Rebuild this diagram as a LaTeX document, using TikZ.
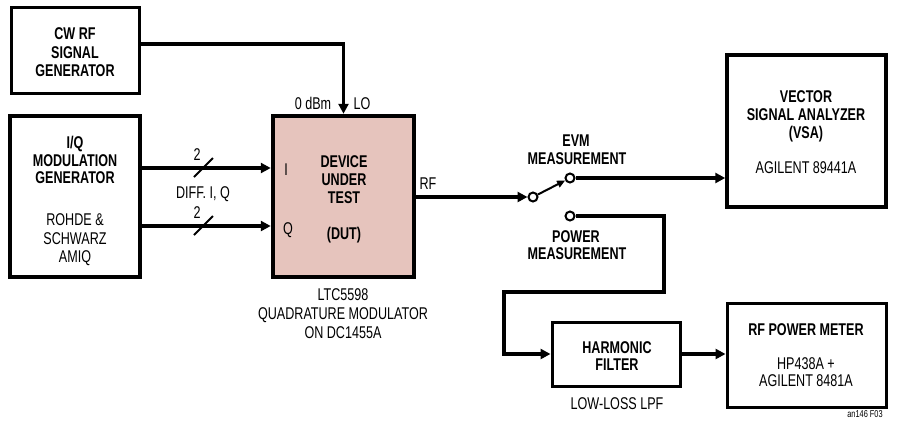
\documentclass[tikz,border=0pt]{standalone}
\usepackage{fontspec}
\setmainfont{Liberation Sans}[FakeStretch=0.74]
\usetikzlibrary{arrows.meta}
\definecolor{dutfill}{RGB}{230,196,189}
\begin{document}
\begin{tikzpicture}[x=1pt,y=-1pt,
  box/.style={draw,rectangle,inner sep=0pt,line width=#1},
  box/.default=3pt,
  tb/.style={font=\fontsize{17}{19}\selectfont\bfseries,inner sep=0pt,text height=12.2pt,text depth=0pt},
  tr/.style={font=\fontsize{17}{19}\selectfont,inner sep=0pt,text height=12.2pt,text depth=0pt},
  wire/.style={line width=3.3pt},
  arr/.style={wire,-{Triangle[length=10pt,width=10pt]}},
  sw/.style={circle,draw,fill=white,line width=2pt,minimum size=9pt,inner sep=0pt},
  slash/.style={line width=2pt}
]
\useasboundingbox (0,0) rectangle (900,424);

% boxes
\node[box=3pt,minimum width=128pt,minimum height=86pt] (cw) at (75,50) {};
\node[box=4pt,minimum width=130pt,minimum height=161pt] (iq) at (75,196.5) {};
\node[box=4.5pt,fill=dutfill,minimum width=141pt,minimum height=161pt] (dut) at (343.5,196.5) {};
\node[box=3.5pt,minimum width=159pt,minimum height=152pt] (vsa) at (806.5,131) {};
\node[box=3pt,minimum width=128pt,minimum height=64pt] (hf) at (616,354) {};
\node[box=3pt,minimum width=159pt,minimum height=104pt] (pm) at (806.5,355) {};

% switch contacts
\node[sw] (s1) at (533,197) {};
\node[sw] (s2) at (570,178) {};
\node[sw] (s3) at (570,216) {};
\coordinate (b1) at (664,292);
\coordinate (b2) at (504,354);

% connectors
\draw[arr] (cw.east |- 0,44) -| (dut.north);
\draw[arr] (iq.east |- 0,168) -- (dut.west |- 0,168);
\draw[arr] (iq.east |- 0,226) -- (dut.west |- 0,226);
\draw[slash] (194,177) -- (213,158);
\draw[slash] (194,235) -- (213,216);
\draw[arr] (dut.east |- s1) -- (s1.west);
\draw[line width=2pt,-{Triangle[length=8pt,width=7pt]}] (s1) -- (s2);
\draw[arr] (s2.east) -- (vsa.west |- s2);
\draw[arr] (s3.east) -| (b1) -| (b2) -- (hf.west);
\draw[arr] (hf.east) -- (pm.west |- hf.east);

% texts: CW RF
\node[tb] (t1) at (75,33) {CW RF};
\node[tb] (t2) at (75,52) {SIGNAL};
\node[tb] (t3) at (75,70) {GENERATOR};
% I/Q generator
\node[tb] (t4) at (75,142) {I/Q};
\node[tb] (t5) at (75,160) {MODULATION};
\node[tb] (t6) at (75,177) {GENERATOR};
\node[tr] (t7) at (75,219) {ROHDE \&};
\node[tr] (t8) at (75,238) {SCHWARZ};
\node[tr] (t9) at (75,256) {AMIQ};
% buses
\node[tr] (t10) at (197,154) {2};
\node[tr] (t11) at (197,212) {2};
\node[tr] (t12) at (203,192) {DIFF. I, Q};
\node[tr] (t13) at (286,169) {I};
\node[tr] (t14) at (288,228) {Q};
\node[tr] (t15) at (313,103) {0 dBm};
\node[tr] (t16) at (362,103) {LO};
% DUT
\node[tb] (t17) at (344,161) {DEVICE};
\node[tb] (t18) at (344,179) {UNDER};
\node[tb] (t19) at (344,197) {TEST};
\node[tb] (t20) at (344,233) {(DUT)};
\node[tr] (t21) at (343,294) {LTC5598};
\node[tr] (t22) at (343,313) {QUADRATURE MODULATOR};
\node[tr] (t23) at (343,332) {ON DC1455A};
\node[tr] (t24) at (428,183) {RF};
% switch labels
\node[tb] (t25) at (576,140) {EVM};
\node[tb] (t26) at (577,158) {MEASUREMENT};
\node[tb] (t27) at (576,236) {POWER};
\node[tb] (t28) at (577,253) {MEASUREMENT};
% VSA
\node[tb] (t29) at (806,96) {VECTOR};
\node[tb] (t30) at (806,114) {SIGNAL ANALYZER};
\node[tb] (t31) at (806,132) {(VSA)};
\node[tr] (t32) at (806,167) {AGILENT 89441A};
% harmonic filter
\node[tb] (t33) at (617,347) {HARMONIC};
\node[tb] (t34) at (617,364) {FILTER};
\node[tr] (t35) at (617,403) {LOW-LOSS LPF};
% power meter
\node[tb] (t36) at (806,329) {RF POWER METER};
\node[tr] (t37) at (806,363) {HP438A +};
\node[tr] (t38) at (806,380) {AGILENT 8481A};
\node[font=\fontsize{10}{11}\selectfont,inner sep=0pt] (t39) at (865,414) {an146 F03};
\end{tikzpicture}
\end{document}
